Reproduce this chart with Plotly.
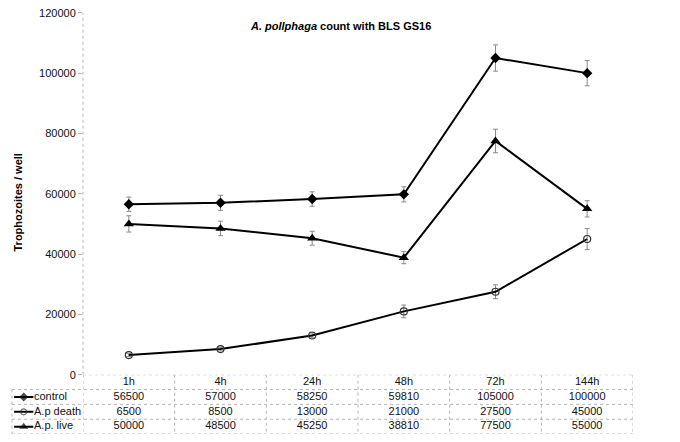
import plotly.graph_objs as go

# data
hours = ["1h", "4h", "24h", "48h", "72h", "144h"]
control = [56500, 57000, 58250, 59810, 105000, 100000]
ap_death = [6500, 8500, 13000, 21000, 27500, 45000]
ap_live = [50000, 48500, 45250, 38810, 77500, 55000]

control_err = [2400, 2500, 2400, 2500, 4350, 4200]
ap_death_err = [500, 600, 800, 2100, 2300, 3500]
ap_live_err = [2700, 2400, 2300, 2000, 3900, 2700]

series_names = ["control", "A.p death", "A.p. live"]
y_ticks = [0, 20000, 40000, 60000, 80000, 100000, 120000]

W, H = 680, 442
FONT = "Arial, Liberation Sans, sans-serif"
GRID = "#b5b5b5"

# pixel layout of the original picture
plot_l, plot_r = 83 / W, 633 / W
plot_b, plot_t = 1 - 379 / H, 1 - 7 / H
tab_l = 12 / W
tab_b = 1 - 440 / H

styles = {
    "control": dict(symbol="diamond", size=8, color="black", line=dict(width=0)),
    "A.p death": dict(symbol="circle-open", size=7, color="#333333", line=dict(width=1.2)),
    "A.p. live": dict(symbol="triangle-up", size=9, color="black", line=dict(width=0)),
}
values = {"control": control, "A.p death": ap_death, "A.p. live": ap_live}
errors = {"control": control_err, "A.p death": ap_death_err, "A.p. live": ap_live_err}

fig = go.Figure()

for name in series_names:
    fig.add_trace(go.Scatter(
        x=hours, y=values[name], name=name, mode="lines+markers",
        line=dict(color="black", width=2),
        marker=styles[name],
        error_y=dict(type="data", array=errors[name], color="#8a8a8a",
                     thickness=1, width=2.5),
        xaxis="x", yaxis="y", showlegend=False,
    ))

# data table under the plot: header row + one row per series
fig.add_trace(go.Scatter(
    x=hours, y=[0.5] * len(hours), mode="text", text=hours,
    textfont=dict(family=FONT, size=11, color="#111111"),
    xaxis="x2", yaxis="y2", showlegend=False, hoverinfo="skip",
))
for i, name in enumerate(series_names):
    row = i + 1.5
    fig.add_trace(go.Scatter(
        x=hours, y=[row] * len(hours), mode="text",
        text=[str(v) for v in values[name]],
        textfont=dict(family=FONT, size=11, color="#111111"),
        xaxis="x2", yaxis="y2", showlegend=False, hoverinfo="skip",
    ))
    # legend key in the label column
    key = dict(styles[name])
    key["size"] = [0, key["size"] - 1, 0]
    fig.add_trace(go.Scatter(
        x=[0.03, 0.165, 0.30], y=[row] * 3, mode="lines+markers",
        line=dict(color="black", width=2), marker=key,
        xaxis="x3", yaxis="y2", showlegend=False, hoverinfo="skip",
    ))
    fig.add_trace(go.Scatter(
        x=[0.31], y=[row], mode="text", text=[name], textposition="middle right",
        textfont=dict(family=FONT, size=11, color="#111111"),
        xaxis="x3", yaxis="y2", showlegend=False, hoverinfo="skip",
    ))

# table grid (dotted grey like the original)
shapes = []
line_style = dict(color=GRID, width=1, dash="dot")
shapes.append(dict(type="line", xref="paper", yref="y2", x0=plot_l, x1=plot_r,
                   y0=0, y1=0, line=line_style))
for r in range(1, 5):
    shapes.append(dict(type="line", xref="paper", yref="y2", x0=tab_l, x1=plot_r,
                       y0=r, y1=r, line=line_style))
shapes.append(dict(type="line", xref="paper", yref="y2", x0=tab_l, x1=tab_l,
                   y0=1, y1=4, line=line_style))
for k in range(len(hours) + 1):
    shapes.append(dict(type="line", xref="x2", yref="y2", x0=k - 0.5, x1=k - 0.5,
                       y0=0, y1=4, line=line_style))
# dotted y axis line
shapes.append(dict(type="line", xref="paper", yref="y", x0=plot_l, x1=plot_l,
                   y0=0, y1=120000, line=line_style))

fig.update_layout(
    width=W, height=H,
    margin=dict(l=0, r=0, t=0, b=0),
    paper_bgcolor="white", plot_bgcolor="white",
    font=dict(family=FONT, size=11, color="#111111"),
    xaxis=dict(domain=[plot_l, plot_r], type="category", categoryarray=hours,
               range=[-0.5, 5.5], showticklabels=False, showgrid=False,
               zeroline=False, showline=False, ticks="", anchor="y"),
    yaxis=dict(domain=[plot_b, plot_t], range=[0, 120000], tickvals=y_ticks,
               ticktext=[str(v) for v in y_ticks], showgrid=False,
               zeroline=False, showline=False, ticks="outside", ticklen=4,
               tickcolor=GRID, tickfont=dict(family=FONT, size=11, color="#111111"),
               anchor="x"),
    xaxis2=dict(domain=[plot_l, plot_r], type="category", categoryarray=hours,
                range=[-0.5, 5.5], visible=False, anchor="y2"),
    yaxis2=dict(domain=[tab_b, plot_b], range=[4, 0], visible=False, anchor="x2"),
    xaxis3=dict(domain=[tab_l, plot_l], range=[0, 1], visible=False, anchor="y2"),
    shapes=shapes,
    annotations=[
        dict(text="<b><i>A. pollphaga</i> count with BLS GS16</b>", xref="paper",
             yref="paper", x=340 / W, y=1 - 21 / H, xanchor="center",
             yanchor="middle", showarrow=False,
             font=dict(family=FONT, size=11, color="black")),
        dict(text="<b>Trophozoites / well</b>", xref="paper", yref="paper",
             x=18 / W, y=1 - 202 / H, xanchor="center", yanchor="middle",
             textangle=-90, showarrow=False,
             font=dict(family=FONT, size=11, color="black")),
    ],
)

# drop the browser's default body margin so the figure sits at the page origin
fig.write_html("out.html", config={"displayModeBar": False},
               post_script="document.body.style.margin='0';")
